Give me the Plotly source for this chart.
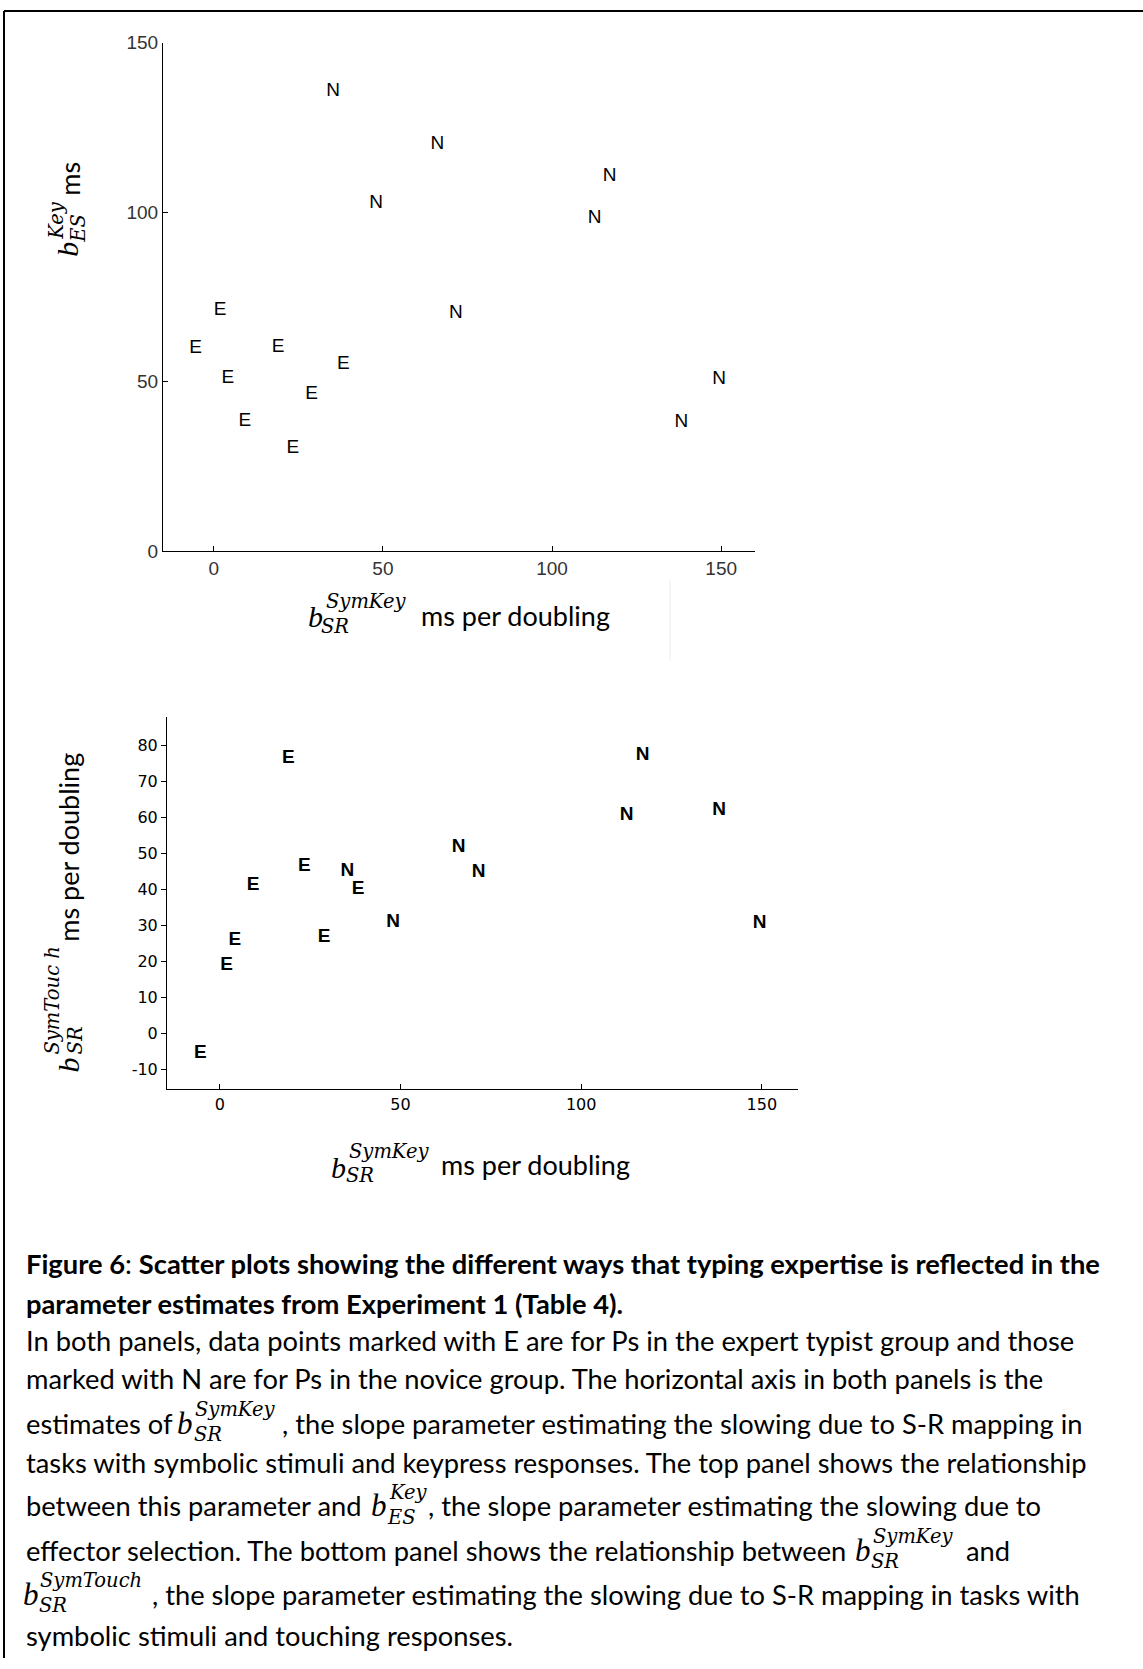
import plotly.graph_objects as go

W, H = 1143, 1669

# ---------------- data ----------------
group_labels = ["E", "N"]
expert_symkey = [-5.4, 1.9, 4.2, 9.2, 19.0, 23.4, 28.9, 38.3]
novice_symkey = [35.3, 48.0, 66.1, 71.6, 112.6, 117.0, 138.2, 149.4]
expert_key_es = [59.8, 71.2, 51.1, 38.4, 60.2, 30.5, 46.2, 55.2]
novice_key_es = [135.7, 102.6, 119.9, 70.1, 98.3, 110.6, 38.1, 50.8]
expert_symtouch = [-5.6, 18.8, 25.7, 41.2, 76.3, 46.3, 26.7, 39.9]
novice_symtouch = [44.9, 30.8, 51.6, 44.7, 60.5, 77.3, 61.9, 30.4]

top_x_ticks = [0, 50, 100, 150]
top_y_ticks = [0, 50, 100, 150]
bot_x_ticks = [0, 50, 100, 150]
bot_y_ticks = [-10, 0, 10, 20, 30, 40, 50, 60, 70, 80]
bot_y_ticktext = ["-10", "0", "10", "20", "30", "40", "50", "60", "70", "80"]

caption_lines = [
    "<b>Figure 6</b>: <b>Scatter plots showing the different ways that typing expertise is reflected in the</b>",
    "<b>parameter estimates from Experiment 1 (Table 4).</b>",
    "In both panels, data points marked with E are for Ps in the expert typist group and those",
    "marked with N are for Ps in the novice group. The horizontal axis in both panels is the",
    "estimates of",
    "tasks with symbolic stimuli and keypress responses. The top panel shows the relationship",
    "between this parameter and",
    "effector selection. The bottom panel shows the relationship between",
    "",
    "symbolic stimuli and touching responses.",
]

# ---------------- figure ----------------
fig = go.Figure()

top_font = dict(family="Liberation Sans", size=19, color="black")
bot_font = dict(family="Liberation Sans", size=19, color="black")

fig.add_trace(go.Scatter(x=expert_symkey, y=expert_key_es, mode="text",
                         text=[group_labels[0]] * len(expert_symkey),
                         textfont=top_font, xaxis="x", yaxis="y", hoverinfo="skip"))
fig.add_trace(go.Scatter(x=novice_symkey, y=novice_key_es, mode="text",
                         text=[group_labels[1]] * len(novice_symkey),
                         textfont=top_font, xaxis="x", yaxis="y", hoverinfo="skip"))
fig.add_trace(go.Scatter(x=expert_symkey, y=expert_symtouch, mode="text",
                         text=["<b>%s</b>" % group_labels[0]] * len(expert_symkey),
                         textfont=bot_font, xaxis="x2", yaxis="y2", hoverinfo="skip"))
fig.add_trace(go.Scatter(x=novice_symkey, y=novice_symtouch, mode="text",
                         text=["<b>%s</b>" % group_labels[1]] * len(novice_symkey),
                         textfont=bot_font, xaxis="x2", yaxis="y2", hoverinfo="skip"))

# vertical placement correction observed in the rendering pipeline
OFF, S = 7.9, 0.989


def px(x):
    return x / W


def py(y):
    return 1 - ((y - OFF) / S) / H


axis_common = dict(showline=True, linecolor="black", linewidth=1, showgrid=False,
                   zeroline=False, ticklen=5, tickcolor="black", tickwidth=1)

fig.update_layout(
    width=W, height=H, autosize=False,
    margin=dict(l=0, r=0, t=0, b=0),
    paper_bgcolor="white", plot_bgcolor="white",
    showlegend=False,
    xaxis=dict(domain=[px(163), px(755)], range=[-15, 160], anchor="y",
               tickvals=top_x_ticks, ticks="inside",
               tickfont=dict(family="Liberation Sans", size=19, color="#333"), **axis_common),
    yaxis=dict(domain=[py(550), py(40.5)], range=[0, 150], anchor="x",
               tickvals=top_y_ticks, ticks="inside",
               tickfont=dict(family="Liberation Sans", size=19, color="#333"), **axis_common),
    xaxis2=dict(domain=[px(167), px(798)], range=[-14.6, 160], anchor="y2",
                tickvals=bot_x_ticks, ticks="inside",
                tickfont=dict(family="DejaVu Sans", size=16, color="black"), **axis_common),
    yaxis2=dict(domain=[py(1089), py(716)], range=[-15.6, 87.8], anchor="x2",
                tickvals=bot_y_ticks, ticktext=bot_y_ticktext, ticks="outside",
                tickfont=dict(family="DejaVu Sans", size=16, color="black"), **axis_common),
)

annotations = []


def ann(text, x, y, size, family="Lato", xanchor="left", angle=0, color="black"):
    annotations.append(dict(text=text, x=px(x), y=py(y), xref="paper", yref="paper",
                            showarrow=False, xanchor=xanchor, yanchor="middle",
                            textangle=angle, font=dict(family=family, size=size, color=color)))


BSERIF = "Liberation Serif"
MSERIF = "DejaVu Serif"
CAP = 27.3
SS = 19.5

# top panel x title
ann("<i>b</i>", 315, 615, 30, BSERIF, "center")
ann("<i>SymKey</i>", 324, 600, SS, MSERIF)
ann("<i>SR</i>", 319, 625, SS, MSERIF)
ann("ms per doubling", 419, 614, 27)

# top panel y title (rotated)
ann("ms", 70, 177, 27, "Lato", "center", -90)
ann("<i>b</i>", 68, 248, 30, BSERIF, "center", -90)
ann("<i>Key</i>", 57, 219, SS, MSERIF, "center", -90)
ann("<i>ES</i>", 79, 227, SS, MSERIF, "center", -90)

# bottom panel y title (rotated)
ann("ms per doubling", 69, 847, 27, "Lato", "center", -90)
ann("<i>b</i>", 68, 1065, 30, BSERIF, "center", -90)
ann("<i>SymTouc h</i>", 53, 1000, SS, MSERIF, "center", -90)
ann("<i>SR</i>", 75, 1040, SS, MSERIF, "center", -90)

# bottom panel x title
ann("<i>b</i>", 338, 1167, 30, BSERIF, "center")
ann("<i>SymKey</i>", 347, 1151, SS, MSERIF)
ann("<i>SR</i>", 344, 1175, SS, MSERIF)
ann("ms per doubling", 439, 1164, 27)

# caption
cap_y = [1263, 1303, 1341, 1379, 1424, 1463, 1506, 1551, 1595, 1636]
for i, line in enumerate(caption_lines):
    if line:
        ann(line, 24, cap_y[i], CAP)

# math pieces in caption
ann("<i>b</i>", 185, 1424, 31, BSERIF, "center")
ann("<i>SymKey</i>", 193, 1410, SS, MSERIF)
ann("<i>SR</i>", 192, 1435, SS, MSERIF)
ann(", the slope parameter estimating the slowing due to S-R mapping in", 280, 1424, CAP)

ann("<i>b</i>", 379, 1506, 31, BSERIF, "center")
ann("<i>Key</i>", 387, 1493, SS, MSERIF)
ann("<i>ES</i>", 385, 1518, SS, MSERIF)
ann(", the slope parameter estimating the slowing due to", 426, 1506, CAP)

ann("<i>b</i>", 863, 1551, 31, BSERIF, "center")
ann("<i>SymKey</i>", 871, 1537, SS, MSERIF)
ann("<i>SR</i>", 869, 1562, SS, MSERIF)
ann("and", 964, 1551, CAP)

ann("<i>b</i>", 31, 1595, 31, BSERIF, "center")
ann("<i>SymTouch</i>", 38, 1581, SS, MSERIF)
ann("<i>SR</i>", 37, 1606, SS, MSERIF)
ann(", the slope parameter estimating the slowing due to S-R mapping in tasks with", 150, 1595, CAP)

fig.update_layout(annotations=annotations)

# frame lines and faint artefact line
shapes = [
    dict(type="line", xref="paper", yref="paper", x0=px(4), x1=px(W), y0=1 - 1 / H, y1=1 - 1 / H,
         line=dict(color="black", width=2)),
    dict(type="line", xref="paper", yref="paper", x0=px(4), x1=px(4), y0=1 - 1 / H, y1=0,
         line=dict(color="black", width=2)),
    dict(type="line", xref="paper", yref="paper", x0=px(670), x1=px(670), y0=py(579), y1=py(660),
         line=dict(color="#ececec", width=1)),
]
fig.update_layout(shapes=shapes)

fig.write_html("out.html")
